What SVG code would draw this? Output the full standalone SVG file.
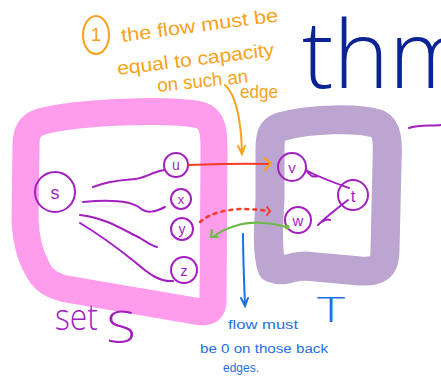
<svg xmlns="http://www.w3.org/2000/svg" width="441" height="381" viewBox="0 0 441 381">
<defs>
<style>
.box{fill:none;stroke-linejoin:round;stroke-linecap:round}
.pe{fill:none;stroke:#A31FBF;stroke-width:2;stroke-linecap:round;stroke-linejoin:round}
.node{fill:none;stroke:#A31FBF;stroke-width:2}
.lbl{font-family:"Liberation Sans",Arial,sans-serif;fill:#A31FBF;text-anchor:middle}
.or{font-family:"Liberation Sans",Arial,sans-serif;fill:#F7A21B;font-size:19px}
.bl{font-family:"Liberation Sans",Arial,sans-serif;fill:#1E6FE6;font-size:12.5px}
.pt{font-family:"Open Sans","Liberation Sans",sans-serif;font-weight:300;fill:#A31FBF}
</style>
</defs>
<rect width="441" height="381" fill="#fff"/>

<g id="setS">
<path class="box" stroke="#FF9CEC" stroke-width="27" d="M40,122 C80,111 170,109 200,115 C214,119 214,135 214,150 L213,300 C213,313 205,313 195,311 L72,290 C52,287 42,280 36,266 C30,255 26,240 25,220 L26,145 C26,131 31,125 40,122 Z"/>
<text class="pt" x="55" y="330" font-size="36" textLength="43" lengthAdjust="spacingAndGlyphs">set</text>
<text class="pt" x="106" y="343" font-size="44" textLength="30" lengthAdjust="spacingAndGlyphs">S</text>
</g>

<g id="setT">
<path class="box" stroke="#BCA5D0" stroke-width="29" d="M280,127 C310,118 360,118 378,124 C390,130 387,150 387,165 L385,250 C385,268 378,272 360,271 L305,266 C290,266 285,273 272,268 C266,250 269,220 270,200 L270,150 C270,135 272,130 280,127 Z"/>
<text x="331" y="322" font-family="Open Sans,Liberation Sans,sans-serif" font-weight="300" font-size="34" fill="#1E6FE6" text-anchor="middle" textLength="28" lengthAdjust="spacingAndGlyphs">T</text>
</g>

<g id="thm">
<text x="302" y="88" font-family="Open Sans,Liberation Sans,sans-serif" font-weight="300" font-size="94" fill="#0B2394">thm</text>
<path class="pe" d="M409,128 C418,125 430,126 441,125"/>
</g>

<g id="note1">
<ellipse cx="96" cy="35" rx="13" ry="19" fill="none" stroke="#F7A21B" stroke-width="2"/>
<text x="96" y="41" class="or" text-anchor="middle" font-size="16">1</text>
<text class="or" transform="translate(122,42) rotate(-7.5)" textLength="158" lengthAdjust="spacingAndGlyphs">the flow must be</text>
<text class="or" transform="translate(118,75) rotate(-7)" textLength="158" lengthAdjust="spacingAndGlyphs">equal to capacity</text>
<text class="or" transform="translate(158,92) rotate(-6)" font-size="16" textLength="91" lengthAdjust="spacingAndGlyphs">on such an</text>
<text class="or" x="240" y="98" textLength="38" lengthAdjust="spacingAndGlyphs">edge</text>
</g>

<g id="note2">
<text class="bl" x="228" y="329" textLength="70" lengthAdjust="spacingAndGlyphs">flow must</text>
<text class="bl" x="200" y="353" textLength="128" lengthAdjust="spacingAndGlyphs">be 0 on those back</text>
<text class="bl" x="223" y="372" textLength="36" lengthAdjust="spacingAndGlyphs">edges.</text>
</g>

<g id="node-s"><circle class="node" cx="55" cy="192" r="20"/><text class="lbl" x="55" y="199" font-size="18">s</text></g>
<g id="node-u"><circle class="node" cx="176" cy="165" r="12"/><text class="lbl" x="176" y="170" font-size="14">u</text></g>
<g id="node-x"><circle class="node" cx="181" cy="199" r="10"/><text class="lbl" x="181" y="204" font-size="13">x</text></g>
<g id="node-y"><circle class="node" cx="182" cy="229" r="11"/><text class="lbl" x="182" y="234" font-size="14">y</text></g>
<g id="node-z"><circle class="node" cx="184" cy="270" r="13"/><text class="lbl" x="184" y="276" font-size="15">z</text></g>
<g id="node-v"><circle class="node" cx="292" cy="167" r="14"/><text class="lbl" x="292" y="173" font-size="15">v</text></g>
<g id="node-w"><circle class="node" cx="298" cy="220" r="13"/><text class="lbl" x="298" y="226" font-size="15">w</text></g>
<g id="node-t"><circle class="node" cx="353" cy="195" r="15"/><text class="lbl" x="353" y="202" font-size="17">t</text></g>

<g id="connectors">
<path class="pe" d="M93,187 C110,180 125,180 135,179 C145,178 152,172 164,170"/>
<path class="pe" d="M83,202 C105,200 130,200 140,208 C147,214 155,212 165,207"/>
<path class="pe" d="M80,215 C105,218 120,228 140,238 C148,243 152,246 157,247"/>
<path class="pe" d="M80,223 C100,235 120,250 135,262 C150,275 160,282 173,281"/>
<path class="pe" d="M349,188 C335,183 318,177 306,170 M306,170 C310,175 312,178 318,176"/>
<path class="pe" d="M348,200 C335,210 325,218 318,225 M318,225 C322,220 328,219 330,220"/>
<path fill="none" stroke="#F43B24" stroke-width="2" d="M188,165 C215,164 245,163 269,164"/>
<path fill="none" stroke="#F7A21B" stroke-width="2" stroke-linecap="round" d="M264,158 L271,163 L265,170"/>
<path fill="none" stroke="#F7A21B" stroke-width="2" stroke-linecap="round" d="M225,85 C236,95 241,120 242,152 M238,146 L242,154 L245,146"/>
<path fill="none" stroke="#F43B24" stroke-width="2.5" stroke-dasharray="3,5" stroke-linecap="round" d="M200,222 C210,213 225,210 240,209 C252,209 262,210 268,211"/>
<path fill="none" stroke="#F43B24" stroke-width="2" stroke-linecap="round" d="M267,207 L270,211 L267,215"/>
<path fill="none" stroke="#6DBA45" stroke-width="2.2" stroke-linecap="round" d="M287,227 C270,222 250,221 235,226 C225,229 218,233 213,237 M212,230 L211,237 L218,237"/>
<circle cx="287" cy="227" r="2.5" fill="#6DBA45"/>
<path fill="none" stroke="#1E6FE6" stroke-width="2" stroke-linecap="round" d="M243,234 C243,255 244,280 245,305 M241,298 L245,306 L248,298"/>
</g>
</svg>
